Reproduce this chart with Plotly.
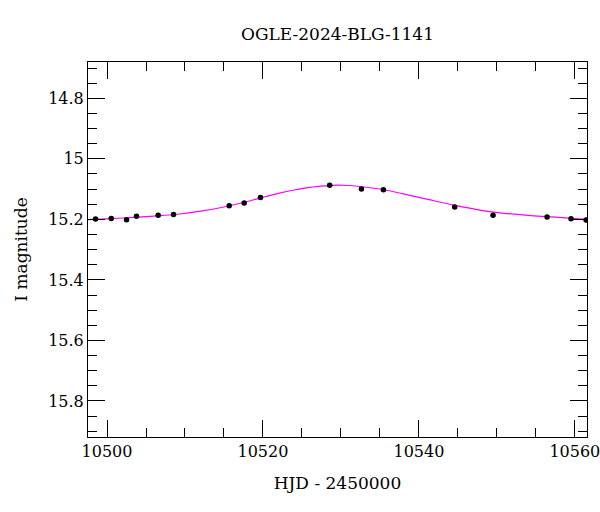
import plotly.graph_objects as go

# Observations (HJD - 2450000, I mag, error)
obs_hjd = [10498.53, 10500.54, 10502.50, 10503.78, 10506.56, 10508.53, 10515.67, 10517.59,
           10519.68, 10528.56, 10532.63, 10535.45, 10544.59, 10549.51, 10556.44, 10559.51, 10561.44]
obs_mag = [15.199, 15.197, 15.201, 15.190, 15.186, 15.184, 15.155, 15.146,
           15.128, 15.087, 15.100, 15.102, 15.159, 15.186, 15.192, 15.198, 15.202]
obs_err = [0.004] * len(obs_hjd)

# Model curve
model_hjd = [10497.5, 10500, 10503, 10506, 10509, 10512, 10515, 10518, 10520, 10522, 10524,
             10526, 10528, 10529.5, 10531, 10533, 10535.5, 10538, 10541, 10544.5, 10548,
             10551, 10554, 10557, 10561.6]
model_mag = [15.201, 15.198, 15.194, 15.189, 15.183, 15.173, 15.159, 15.141, 15.127, 15.114, 15.103,
             15.094, 15.089, 15.087, 15.088, 15.093, 15.102, 15.116, 15.133, 15.153, 15.170,
             15.180, 15.187, 15.192, 15.200]

x_tickvals = [10500, 10520, 10540, 10560]
x_ticktext = ["10500", "10520", "10540", "10560"]
y_tickvals = [14.8, 15.0, 15.2, 15.4, 15.6, 15.8]
y_ticktext = ["14.8", "15", "15.2", "15.4", "15.6", "15.8"]

FONT = "DejaVu Serif"

fig = go.Figure()
fig.add_trace(go.Scatter(x=model_hjd, y=model_mag, mode="lines",
                         line=dict(color="#ff00ff", width=1.2, shape="spline"),
                         hoverinfo="skip", showlegend=False, cliponaxis=True))
fig.add_trace(go.Scatter(x=obs_hjd, y=obs_mag, mode="markers",
                         marker=dict(color="black", size=5.5, symbol="circle"),
                         error_y=dict(type="data", array=obs_err, color="black", thickness=1, width=2),
                         showlegend=False, cliponaxis=True))

axis_common = dict(showgrid=False, zeroline=False, showline=True, linecolor="black", linewidth=1,
                   mirror="allticks", ticks="inside", ticklen=17, tickcolor="black", tickwidth=1,
                   ticklabeloverflow="allow", automargin=False,
                   tickfont=dict(family=FONT, size=16, color="black"))

fig.update_layout(
    width=600, height=512,
    margin=dict(l=88, r=13, t=62, b=75),
    paper_bgcolor="white", plot_bgcolor="white",
    title=dict(text="OGLE-2024-BLG-1141", x=0.5625, xanchor="center", y=1 - 34 / 512, yanchor="middle",
               font=dict(family=FONT, size=17, color="black")),
    xaxis=dict(range=[10497.56, 10561.56], tickmode="array", tickvals=x_tickvals, ticktext=x_ticktext,
               minor=dict(dtick=5, tick0=10500, ticks="inside", ticklen=9, tickcolor="black"),
               title=dict(text="HJD - 2450000", font=dict(family=FONT, size=17, color="black"), standoff=16),
               **axis_common),
    yaxis=dict(range=[15.919, 14.68], tickmode="array", tickvals=y_tickvals, ticktext=y_ticktext,
               minor=dict(dtick=0.05, tick0=14.8, ticks="inside", ticklen=9, tickcolor="black"),
               title=dict(text="I magnitude", font=dict(family=FONT, size=17, color="black"), standoff=16),
               **axis_common),
)

fig.write_html("out.html")
